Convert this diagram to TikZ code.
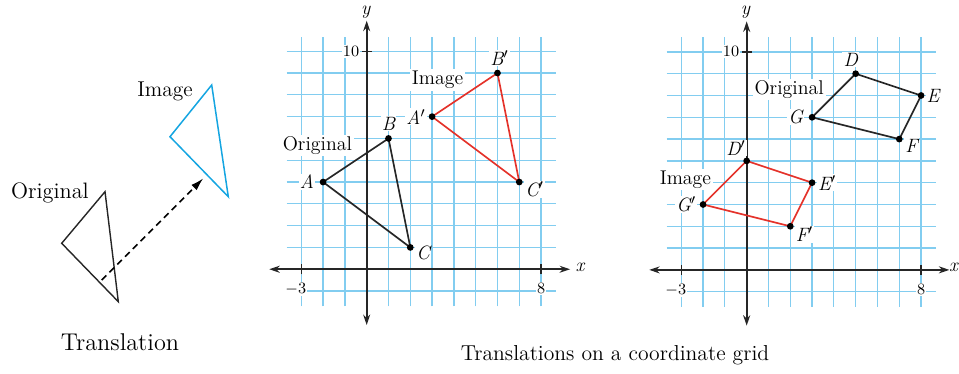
\documentclass[tikz,border=0pt]{standalone}
\usepackage{xcolor}
\definecolor{gridblue}{RGB}{130,205,240}
\definecolor{imgblue}{RGB}{20,165,225}
\definecolor{imgred}{RGB}{228,50,42}
\usetikzlibrary{arrows.meta,positioning}

\begin{document}
\begin{tikzpicture}[x=0.436cm,y=0.436cm,
  gridline/.style={gridblue,line width=0.7pt},
  axis/.style={{Stealth[length=2.1mm,width=1.4mm]}-{Stealth[length=2.1mm,width=1.4mm]},line width=0.95pt,black!85},
  tickline/.style={line width=0.75pt,black!85},
  orig/.style={line width=0.95pt,black!85},
  img/.style={line width=0.95pt,imgred},
  dot/.style={circle,fill=black,inner sep=0pt,minimum size=1.35mm},
  lbl/.style={fill=white,inner sep=1pt,font=\fontsize{11.3}{13}\selectfont},
  vtx/.style={fill=white,inner sep=0.6pt,font=\fontsize{11}{13}\selectfont\itshape},
  ticklbl/.style={fill=white,inner sep=0.6pt,font=\fontsize{9}{11}\selectfont},
  move/.style={-{Latex[length=2.6mm,width=1.5mm]},dash pattern=on 1.3mm off 0.9mm,line width=0.9pt}]
  \useasboundingbox (0,0) rectangle (43.99,17.11);
  % Translation sketch
  \coordinate (o1) at (4.817,8.317);
  \coordinate (o2) at (2.830,5.950);
  \coordinate (o3) at (5.427,3.271);
  \coordinate (i1) at (9.711,13.211);
  \coordinate (i2) at (7.798,10.839);
  \coordinate (i3) at (10.472,8.087);
  \draw[line width=0.8pt,black!85] (o1) -- (o2) -- (o3) -- cycle;
  \draw[line width=0.85pt,imgblue] (i1) -- (i2) -- (i3) -- cycle;
  \coordinate (tstart) at (4.665,4.266);
  \coordinate (tend) at (9.326,8.931);
  \draw[move] (tstart) -- (tend);
  \node[font=\fontsize{12.2}{14}\selectfont] (simg) at (7.57,12.90) {Image};
  \node[font=\fontsize{12.7}{14}\selectfont] (sorig) at (2.29,8.26) {Original};
  \node[font=\fontsize{13.8}{16}\selectfont] (stitle) at (5.505,1.42) {Translation};
  % Grid 1: triangle ABC
  \begin{scope}[shift={(16.82,4.76)}]
    \foreach \i in {-3,...,8} \draw[gridline] (\i,-1.7) -- (\i,10.67);
    \foreach \j in {-1,...,10} \draw[gridline] (-3.67,\j) -- (8.69,\j);
    \draw[axis] (-4.47,0) -- (9.33,0);
    \draw[axis] (0,-2.56) -- (0,11.4);
    \draw[tickline] (-0.23,10) -- (0.23,10);
    \draw[tickline] (-3,-0.23) -- (-3,0.23);
    \draw[tickline] (8,-0.23) -- (8,0.23);
    \node[ticklbl,anchor=east] (t10) at (-0.28,10) {10};
    \node[ticklbl] (tm3) at (-3.25,-0.92) {$-3$};
    \node[ticklbl] (t8) at (8,-0.88) {8};
    \node[font=\fontsize{11}{13}\selectfont\itshape] (ylab) at (-0.05,11.8) {y};
    \node[font=\fontsize{11}{13}\selectfont\itshape] (xlab) at (9.78,0.1) {x};
    \coordinate (A) at (-2,4);
    \coordinate (B) at (1,6);
    \coordinate (C) at (2,1);
    \coordinate (Ap) at (3,7);
    \coordinate (Bp) at (6,9);
    \coordinate (Cp) at (7,4);
    \draw[orig] (A) -- (B) -- (C) -- cycle;
    \draw[img] (Ap) -- (Bp) -- (Cp) -- cycle;
    \foreach \p in {A,B,C,Ap,Bp,Cp} \node[dot] (d\p) at (\p) {};
    \node[vtx,left=0.8mm of dA] (lA) {A};
    \node[vtx,above=0.6mm of dB] (lB) {B};
    \node[vtx,right=0.2mm of dC,yshift=-1mm] (lC) {C};
    \node[vtx,left=0.3mm of dAp] (lAp) {A$'$};
    \node[vtx,above=0.5mm of dBp,xshift=0.4mm] (lBp) {B$'$};
    \node[vtx,right=0.2mm of dCp,yshift=-1.5mm] (lCp) {C$'$};
    \node[lbl] (gorig1) at (-2.26,5.67) {Original};
    \node[lbl] (gimg1) at (3.25,8.68) {Image};
  \end{scope}
  % Grid 2: quadrilateral DEFG
  \begin{scope}[shift={(34.25,4.73)}]
    \foreach \i in {-3,...,8} \draw[gridline] (\i,-1.7) -- (\i,10.67);
    \foreach \j in {-1,...,10} \draw[gridline] (-3.67,\j) -- (8.69,\j);
    \draw[axis] (-4.47,0) -- (9.3,0);
    \draw[axis] (0,-2.56) -- (0,11.4);
    \draw[tickline] (-0.23,10) -- (0.23,10);
    \draw[tickline] (-3,-0.23) -- (-3,0.23);
    \draw[tickline] (8,-0.23) -- (8,0.23);
    \node[ticklbl,anchor=east] (u10) at (-0.28,10) {10};
    \node[ticklbl] (um3) at (-3.25,-0.92) {$-3$};
    \node[ticklbl] (u8) at (8,-0.88) {8};
    \node[font=\fontsize{11}{13}\selectfont\itshape] (ylab2) at (-0.05,11.8) {y};
    \node[font=\fontsize{11}{13}\selectfont\itshape,anchor=east,inner sep=0.3pt] (xlab2) at (9.72,0.1) {x};
    \coordinate (D) at (5,9);
    \coordinate (E) at (8,8);
    \coordinate (F) at (7,6);
    \coordinate (G) at (3,7);
    \coordinate (Dp) at (0,5);
    \coordinate (Ep) at (3,4);
    \coordinate (Fp) at (2,2);
    \coordinate (Gp) at (-2,3);
    \draw[orig] (D) -- (E) -- (F) -- (G) -- cycle;
    \draw[img] (Dp) -- (Ep) -- (Fp) -- (Gp) -- cycle;
    \foreach \p in {D,E,F,G,Dp,Ep,Fp,Gp} \node[dot] (d\p) at (\p) {};
    \node[vtx,above=0.5mm of dD,xshift=-1mm] (lD) {D};
    \node[vtx,right=0.1mm of dE] (lE) {E};
    \node[vtx,right=0.2mm of dF,yshift=-1.3mm] (lF) {F};
    \node[vtx,left=0.8mm of dG] (lG) {G};
    \node[vtx,above left=0.3mm and -0.6mm of dDp] (lDp) {D$'$};
    \node[vtx,right=0.2mm of dEp] (lEp) {E$'$};
    \node[vtx,right=0.1mm of dFp,yshift=-1.6mm] (lFp) {F$'$};
    \node[vtx,left=0.4mm of dGp] (lGp) {G$'$};
    \node[lbl] (gorig2) at (1.95,8.27) {Original};
    \node[lbl] (gimg2) at (-2.81,4.15) {Image};
  \end{scope}
  % Caption
  \node[font=\fontsize{12.3}{14}\selectfont] (caption) at (28.21,0.83) {Translations on a coordinate grid};
\end{tikzpicture}
\end{document}
